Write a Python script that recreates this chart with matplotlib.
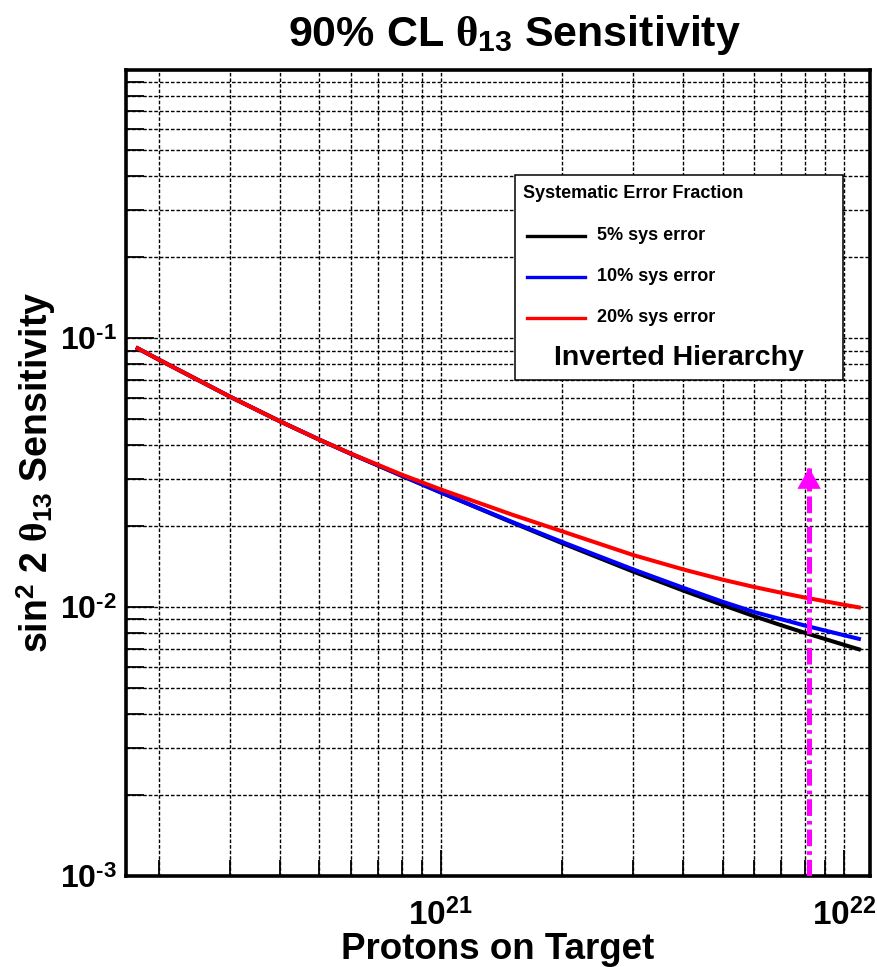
import numpy as np
import matplotlib
matplotlib.use("Agg")
import matplotlib.pyplot as plt
from matplotlib.ticker import LogLocator, FuncFormatter, NullFormatter
from matplotlib.patches import Rectangle
from matplotlib.lines import Line2D

plt.rcParams.update({
    "font.family": ["Liberation Sans", "DejaVu Sans"],
    "font.weight": "bold",
    "mathtext.fontset": "custom",
    "mathtext.rm": "Liberation Sans:bold",
    "mathtext.bf": "Liberation Sans:bold",
    "mathtext.sf": "Liberation Sans:bold",
    "mathtext.it": "Liberation Serif",
    "lines.scale_dashes": False,
})

# Protons on target
pot = [1.77e20, 2e20, 3e20, 4e20, 5e20, 6e20, 8e20, 1e21, 1.5e21, 2e21,
       3e21, 4e21, 5e21, 6e21, 7e21, 8e21, 1e22, 1.09e22]

# 90% CL sin^2(2 theta13) sensitivity for each systematic error fraction
sens_5pct = [0.0918, 0.08325, 0.06067, 0.04905, 0.04196, 0.03713, 0.0308,
             0.0267, 0.02068, 0.0173, 0.01357, 0.01152, 0.01019, 0.009247,
             0.00856, 0.008028, 0.007245, 0.00697]
sens_10pct = [0.0918, 0.08325, 0.06067, 0.04905, 0.04196, 0.03713, 0.03089,
              0.02672, 0.02078, 0.01748, 0.01382, 0.0118, 0.01048, 0.009587,
              0.009013, 0.008545, 0.007867, 0.007621]
sens_20pct = [0.0918, 0.08325, 0.06067, 0.04905, 0.04196, 0.03719, 0.03112,
              0.02741, 0.02211, 0.01915, 0.01563, 0.01381, 0.01266, 0.01188,
              0.01131, 0.01086, 0.01021, 0.00998]

series_labels = ["5% sys error", "10% sys error", "20% sys error"]
series_colors = ["black", "blue", "red"]
legend_title = "Systematic Error Fraction"
hierarchy_label = "Inverted Hierarchy"

# Nominal exposure marker
nominal_pot = 8.2e21
nominal_top = 0.033

x_major = [1e21, 1e22]
y_major = [1e-3, 1e-2, 1e-1]

W, H = 878, 967
fig = plt.figure(figsize=(W / 100, H / 100), dpi=100)
ax = fig.add_axes([126 / W, 1 - 876 / H, 744 / W, 806.5 / H])
ax.set_xscale("log")
ax.set_yscale("log")
ax.set_xlim(1.656e20, 1.161e22)
ax.set_ylim(1e-3, 1)

for ys, col in zip([sens_5pct, sens_10pct, sens_20pct], series_colors):
    ax.plot(pot, ys, color=col, lw=2.9, zorder=3)

# dash-dot arrow marking the nominal exposure
ax.plot([nominal_pot, nominal_pot], [1e-3, nominal_top], color="#ff00ff",
        lw=3.6, dashes=(12, 3.6, 2.6, 3.6), zorder=4)
ax.annotate("", xy=(nominal_pot, nominal_top), xytext=(0, -15),
            textcoords="offset points",
            arrowprops=dict(arrowstyle="-|>,head_length=0.72,head_width=0.4",
                            mutation_scale=20, color="#ff00ff", lw=0.5,
                            shrinkA=0, shrinkB=0),
            zorder=5)

# axes, ticks and grid
ax.set_xticks(x_major)
ax.set_yticks(y_major)
ax.xaxis.set_minor_locator(LogLocator(base=10, subs=np.arange(2, 10)))
ax.yaxis.set_minor_locator(LogLocator(base=10, subs=np.arange(2, 10)))
ax.xaxis.set_minor_formatter(NullFormatter())
ax.yaxis.set_minor_formatter(NullFormatter())


def decade_label(v, pos):
    e = int(round(np.log10(v)))
    sign = "\u2010" if e < 0 else ""
    return r"$10^{%s%d}$" % (sign, abs(e))


ax.xaxis.set_major_formatter(FuncFormatter(decade_label))
ax.yaxis.set_major_formatter(FuncFormatter(decade_label))

ax.grid(True, which="both", color="black", lw=1.0, linestyle=(0, (2.6, 1.4)))
ax.tick_params(which="both", direction="in", top=False, right=False,
               width=1.3, color="black")
ax.tick_params(axis="y", which="major", length=20, pad=6.5, labelsize=23)
ax.tick_params(axis="y", which="minor", length=13)
ax.tick_params(axis="x", which="major", length=19, pad=16.5, labelsize=24)
ax.tick_params(axis="x", which="minor", length=11.5)
for s in ax.spines.values():
    s.set_linewidth(2.6)

ax.set_xlabel("Protons on Target", fontsize=26.5, fontweight="bold")
ax.xaxis.set_label_coords(0.5, -0.069)
ax.set_ylabel(r"sin$^{2}$ 2 $\theta_{13}$ Sensitivity", fontsize=27,
              fontweight="bold")
ax.yaxis.set_label_coords(-0.092, 0.5)

fig.text(514 / W, 1 - 46 / H, r"90% CL $\theta_{13}$ Sensitivity",
         ha="center", va="baseline", fontsize=31, fontweight="bold")

# legend panel
def ax_x(px):
    return (px - 126) / 744


def ax_y(py):
    return (876 - py) / 806.5


box = Rectangle((ax_x(515), ax_y(380)), ax_x(843) - ax_x(515),
                ax_y(175) - ax_y(380), transform=ax.transAxes,
                facecolor="white", edgecolor="black", lw=1.1, zorder=6)
ax.add_patch(box)
ax.text(ax_x(523), ax_y(193), legend_title, transform=ax.transAxes,
        ha="left", va="center", fontsize=13, fontweight="bold", zorder=7)
for i, (lab, col) in enumerate(zip(series_labels, series_colors)):
    yy = ax_y(235.7 + 41 * i)
    ax.add_line(Line2D([ax_x(527), ax_x(585)], [yy, yy], color=col, lw=2.4,
                       transform=ax.transAxes, zorder=7))
    ax.text(ax_x(597), yy, lab, transform=ax.transAxes, ha="left",
            va="center", fontsize=13, fontweight="bold", zorder=7)
ax.text(ax_x(678.5), ax_y(358), hierarchy_label, transform=ax.transAxes,
        ha="center", va="center", fontsize=20.5, fontweight="bold", zorder=7)

fig.savefig("out.png", dpi=100)
